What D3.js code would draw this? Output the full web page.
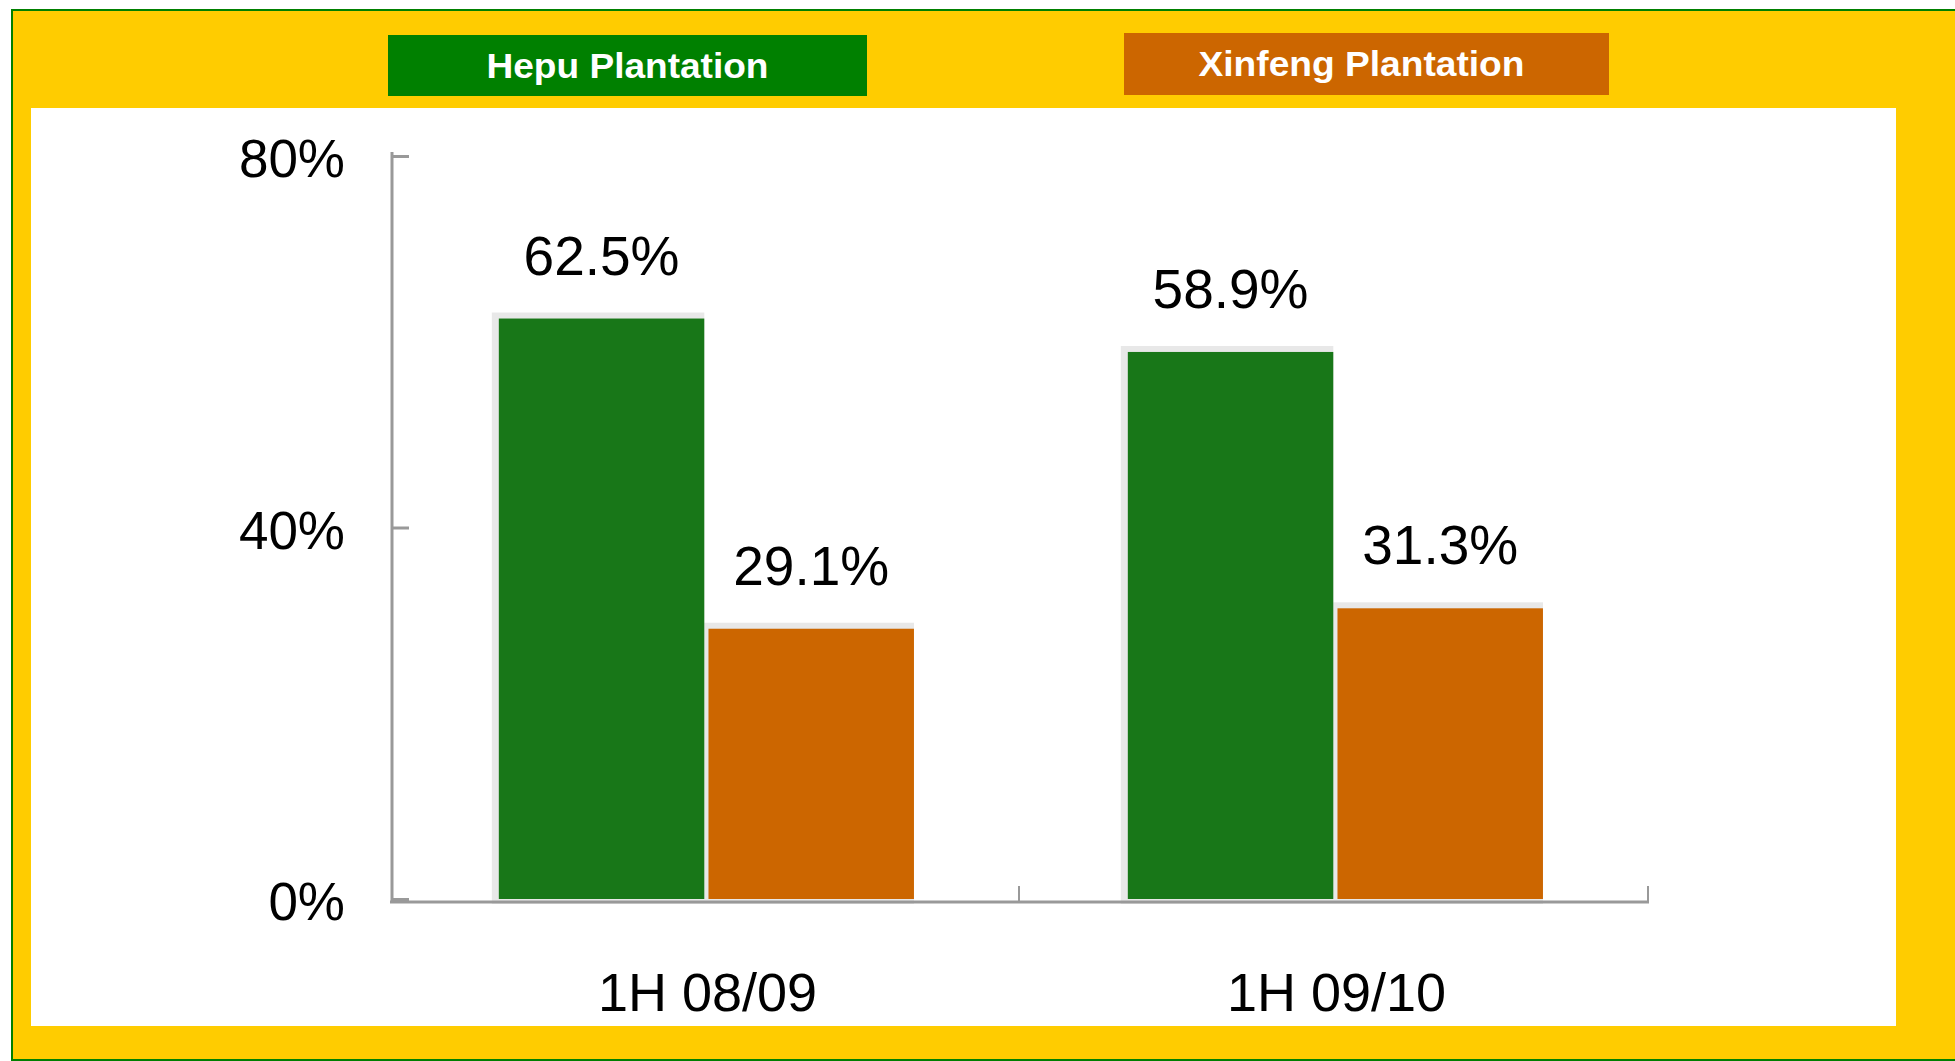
<!DOCTYPE html>
<html>
<head>
<meta charset="utf-8">
<script src="https://cdn.jsdelivr.net/npm/d3@7"></script>
<style>
  body { margin: 0; background: #fff; }
  text { font-family: Arial, "Liberation Sans", sans-serif; }
</style>
</head>
<body>
<svg id="canvas"></svg>
<script>
// chart data
const categories = ['1H 08/09', '1H 09/10'];
const seriesNames = ['Hepu Plantation', 'Xinfeng Plantation'];
const hepuValues = [62.5, 58.9];
const xinfengValues = [29.1, 31.3];
const yTickValues = [0, 40, 80];

const barColors = ['#187718', '#CC6600'];
const legendColors = ['#008000', '#CC6600'];

let width = 1955;
let height = 1061;

let canvas = d3.select('#canvas')
    .attr('width', width)
    .attr('height', height);

// frame: yellow panel with green edge, white plot area inside
canvas.append('rect')
    .attr('x', 12).attr('y', 10)
    .attr('width', 1960).attr('height', 1050)
    .attr('fill', '#FFCC00')
    .attr('stroke', '#008000')
    .attr('stroke-width', 2);

canvas.append('rect')
    .attr('x', 31).attr('y', 108)
    .attr('width', 1865).attr('height', 918)
    .attr('fill', '#ffffff');

// legend boxes across the top
let legendBoxes = [
    {x: 388, y: 35, w: 479, h: 61, tw: 282},
    {x: 1124, y: 33, w: 485, h: 62, tw: 326}
];

let legend = canvas.selectAll('g.legend')
    .data(seriesNames)
    .enter()
    .append('g')
    .attr('class', 'legend');

legend.append('rect')
    .attr('x', (d, i) => legendBoxes[i].x)
    .attr('y', (d, i) => legendBoxes[i].y)
    .attr('width', (d, i) => legendBoxes[i].w)
    .attr('height', (d, i) => legendBoxes[i].h)
    .attr('fill', (d, i) => legendColors[i]);

legend.append('text')
    .attr('x', (d, i) => legendBoxes[i].x + legendBoxes[i].w / 2 - (i == 1 ? 5 : 0))
    .attr('y', (d, i) => legendBoxes[i].y + 43)
    .attr('text-anchor', 'middle')
    .attr('fill', '#ffffff')
    .attr('font-family', '"Open Sans", "DejaVu Sans", sans-serif')
    .attr('font-weight', 'bold')
    .attr('font-size', 35)
    .attr('textLength', (d, i) => legendBoxes[i].tw)
    .attr('lengthAdjust', 'spacingAndGlyphs')
    .text(d => d);

// scales
let xScale = d3.scaleBand()
    .domain(categories)
    .range([390, 1648]);

let bw = xScale.bandwidth();

let xSub = d3.scaleBand()
    .domain(seriesNames)
    .range([bw * 0.173, bw * 0.833])
    .paddingInner(0.02)
    .paddingOuter(0);

let yScale = d3.scaleLinear()
    .domain([0, 80])
    .range([899, 156]);

let rows = [];
categories.forEach((c, ci) => {
    rows.push({cat: c, series: seriesNames[0], value: hepuValues[ci], color: barColors[0]});
    rows.push({cat: c, series: seriesNames[1], value: xinfengValues[ci], color: barColors[1]});
});

// light shadow behind each bar
canvas.selectAll('rect.shadow')
    .data(rows)
    .enter()
    .append('rect')
    .attr('class', 'shadow')
    .attr('x', d => xScale(d.cat) + xSub(d.series) - 7)
    .attr('y', d => yScale(d.value) - 6)
    .attr('width', xSub.bandwidth() + 7)
    .attr('height', d => yScale(0) - yScale(d.value) + 11)
    .attr('fill', '#e8e8e8');

canvas.selectAll('rect.bar')
    .data(rows)
    .enter()
    .append('rect')
    .attr('class', 'bar')
    .attr('x', d => xScale(d.cat) + xSub(d.series))
    .attr('y', d => yScale(d.value))
    .attr('width', xSub.bandwidth())
    .attr('height', d => yScale(0) - yScale(d.value))
    .attr('fill', d => d.color);

// value labels
canvas.selectAll('text.value')
    .data(rows)
    .enter()
    .append('text')
    .attr('class', 'value')
    .attr('x', d => xScale(d.cat) + xSub(d.series) + xSub.bandwidth() / 2)
    .attr('y', d => yScale(d.value) - 44)
    .attr('text-anchor', 'middle')
    .attr('font-size', 55)
    .attr('fill', '#000')
    .text(d => d.value.toFixed(1) + '%');

// y axis
let yAxis = d3.axisRight(yScale)
    .tickValues(yTickValues)
    .tickSize(17)
    .tickFormat('');

let yAxisG = canvas.append('g')
    .attr('id', 'y-axis')
    .attr('transform', 'translate(392, 0)')
    .call(yAxis);

yAxisG.select('.domain').remove();
yAxisG.append('line')
    .attr('x1', 0).attr('x2', 0)
    .attr('y1', yScale(80) - 4).attr('y2', yScale(0) + 3)
    .attr('stroke', '#999');
yAxisG.selectAll('.tick line')
    .attr('stroke', '#999')
    .attr('stroke-width', 3);
yAxisG.selectAll('line').attr('stroke-width', 3);

canvas.selectAll('text.ytick')
    .data(yTickValues)
    .enter()
    .append('text')
    .attr('class', 'ytick')
    .attr('x', 345)
    .attr('y', d => yScale(d) + 21)
    .attr('text-anchor', 'end')
    .attr('font-size', 53)
    .attr('fill', '#000')
    .text(d => d + '%');

// x axis: baseline with upward ticks at band edges
let xAxisG = canvas.append('g')
    .attr('id', 'x-axis')
    .attr('transform', 'translate(0, ' + (yScale(0) + 3) + ')');

xAxisG.append('line')
    .attr('x1', 390).attr('x2', 1649)
    .attr('y1', 0).attr('y2', 0)
    .attr('stroke', '#999')
    .attr('stroke-width', 3);

xAxisG.selectAll('line.xtick')
    .data(categories.slice(1).map(c => xScale(c)).concat([xScale(categories[categories.length - 1]) + bw]))
    .enter()
    .append('line')
    .attr('class', 'xtick')
    .attr('x1', d => d).attr('x2', d => d)
    .attr('y1', 0).attr('y2', -16)
    .attr('stroke', '#999')
    .attr('stroke-width', 2);

canvas.selectAll('text.cat')
    .data(categories)
    .enter()
    .append('text')
    .attr('class', 'cat')
    .attr('x', d => xScale(d) + bw / 2 + 3)
    .attr('y', 1011)
    .attr('text-anchor', 'middle')
    .attr('font-size', 54)
    .attr('fill', '#000')
    .text(d => d);
</script>
</body>
</html>
